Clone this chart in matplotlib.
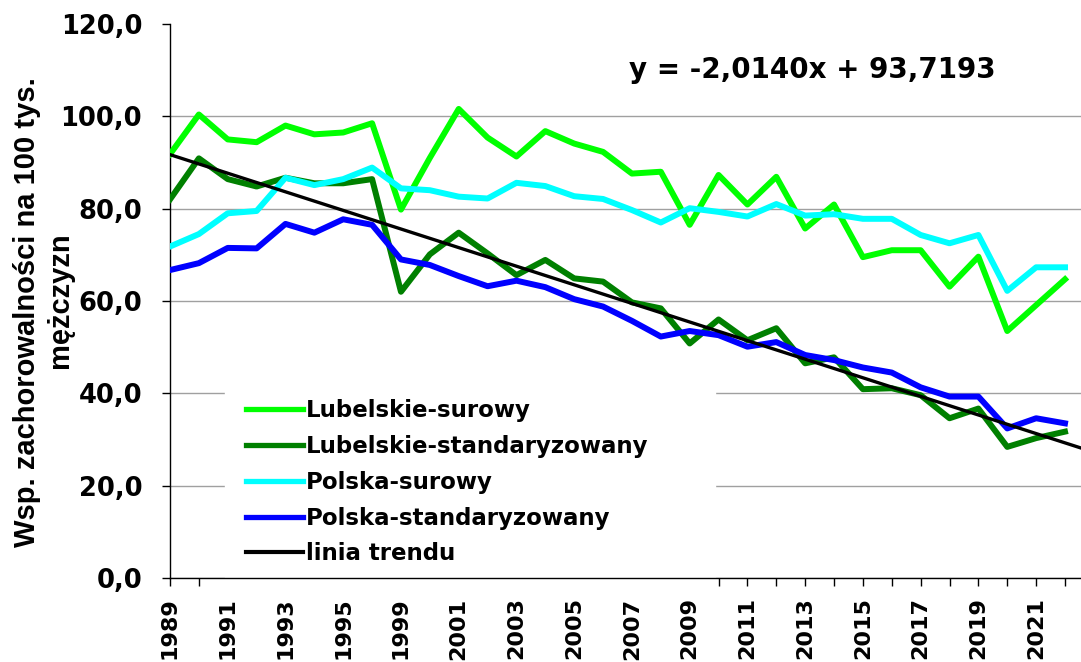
import matplotlib
matplotlib.use("Agg")
import matplotlib.pyplot as plt
from matplotlib.ticker import FixedLocator, FuncFormatter
import numpy as np

# ---- data ----
years = ["1989", "1990", "1991", "1992", "1993", "1994", "1995", "1997",
         "1999", "2000", "2001", "2002", "2003", "2004", "2005", "2006",
         "2007", "2008", "2009", "2010", "2011", "2012", "2013", "2014",
         "2015", "2016", "2017", "2018", "2019", "2020", "2021", "2022"]

lubelskie_surowy = [91.8, 100.4, 95.0, 94.4, 98.0, 96.1, 96.5, 98.5,
                    79.8, 91.0, 101.6, 95.4, 91.3, 96.8, 94.1, 92.3,
                    87.6, 88.0, 76.5, 87.3, 80.9, 86.9, 75.7, 80.9,
                    69.5, 71.0, 71.0, 63.1, 69.6, 53.5, 59.1, 64.7]
lubelskie_std = [82.0, 90.9, 86.4, 84.8, 86.7, 85.5, 85.5, 86.4,
                 62.0, 70.1, 74.8, 70.3, 65.6, 68.9, 64.9, 64.2,
                 59.7, 58.4, 50.8, 56.0, 51.5, 54.1, 46.5, 47.8,
                 40.9, 41.1, 39.6, 34.6, 36.7, 28.4, 30.3, 31.7]
polska_surowy = [71.8, 74.5, 79.0, 79.5, 86.7, 85.1, 86.4, 88.9,
                 84.4, 84.0, 82.6, 82.2, 85.6, 84.9, 82.7, 82.1,
                 79.7, 77.0, 80.1, 79.3, 78.3, 81.0, 78.5, 78.8,
                 77.8, 77.8, 74.3, 72.5, 74.3, 62.2, 67.3, 67.3]
polska_std = [66.7, 68.2, 71.5, 71.4, 76.7, 74.8, 77.7, 76.5,
              69.0, 67.8, 65.4, 63.2, 64.4, 63.0, 60.4, 58.8,
              55.7, 52.3, 53.5, 52.6, 50.1, 51.1, 48.3, 47.2,
              45.6, 44.5, 41.3, 39.3, 39.3, 32.4, 34.6, 33.5]

trend_slope = -2.0140
trend_intercept = 93.7193
trend_x_range = [1.0, 32.6]   # Excel trend x (1-based), with forward forecast

series_labels = ["Lubelskie-surowy", "Lubelskie-standaryzowany",
                 "Polska-surowy", "Polska-standaryzowany", "linia trendu"]
y_ticks = [0, 20, 40, 60, 80, 100, 120]
equation_text = "y = -2,0140x + 93,7193"
ylabel_lines = ["Wsp. zachorowalności na 100 tys.", "mężczyzn"]

# ---- figure ----
W, H = 1081, 662
fig = plt.figure(figsize=(W / 100, H / 100), dpi=100)
ax = fig.add_axes([170 / W, (H - 578) / H, (W - 170) / W, (578 - 24) / H])

x = np.arange(len(years))
lw = 4.3
ax.plot(x, lubelskie_surowy, color="#00FF00", lw=lw, label=series_labels[0], zorder=3)
ax.plot(x, lubelskie_std, color="#008000", lw=lw, label=series_labels[1], zorder=3)
ax.plot(x, polska_surowy, color="#00FFFF", lw=lw, label=series_labels[2], zorder=3)
ax.plot(x, polska_std, color="#0000FF", lw=lw, label=series_labels[3], zorder=3)

tx = np.array(trend_x_range)
ax.plot(tx - 1, trend_slope * tx + trend_intercept, color="black", lw=2.4,
        label=series_labels[4], zorder=4)

ax.set_xlim(0, (W - 170) / ((1065 - 170) / 31))
ax.set_ylim(0, 120)

# spines
for s in ["top", "right"]:
    ax.spines[s].set_visible(False)
for s in ["left", "bottom"]:
    ax.spines[s].set_color("black")
    ax.spines[s].set_linewidth(1.0)

# y axis
ax.yaxis.set_major_locator(FixedLocator(y_ticks))
ax.yaxis.set_major_formatter(FuncFormatter(lambda v, p: f"{v:.1f}".replace(".", ",")))
ax.tick_params(axis="y", direction="out", length=6, width=1, pad=14,
               labelsize=18.5)
for lab in ax.get_yticklabels():
    lab.set_fontweight("bold")
ax.yaxis.grid(True, color="#A0A0A0", lw=1.0, zorder=0)
ax.set_axisbelow(True)
gl = ax.get_ygridlines()
gl[-1].set_visible(False)

# x axis
ax.set_xticks(x)
ax.set_xticklabels([y if i % 2 == 0 else "" for i, y in enumerate(years)],
                   rotation=90, fontsize=16, fontweight="bold")
ax.tick_params(axis="x", direction="out", length=6, width=1, pad=8)

# legend
leg = ax.legend(loc="upper left",
                bbox_to_anchor=((225 - 170) / (W - 170), (578 - 384) / 554,
                                (715 - 225) / (W - 170), 0.01),
                mode="expand", frameon=True, fancybox=False,
                facecolor="white", edgecolor="white", framealpha=1,
                borderpad=0.9, borderaxespad=0, labelspacing=0.56,
                handlelength=2.5, handletextpad=0.15,
                prop={"weight": "bold", "size": 16.5})
leg.set_zorder(2)
for line in leg.get_lines()[:4]:
    line.set_linewidth(3.8)
leg.get_lines()[4].set_linewidth(3.0)

# equation
fig.text(629 / W, 1 - 70 / H, equation_text, fontsize=20, fontweight="bold",
         ha="left", va="center")

# y label (two lines, centred as in the reference)
fig.text(27 / W, 1 - 312 / H, ylabel_lines[0], rotation=90, ha="center",
         va="center", fontsize=21, fontweight="bold", family="Liberation Sans")
fig.text(60 / W, 1 - 300 / H, ylabel_lines[1], rotation=90, ha="center",
         va="center", fontsize=21, fontweight="bold", family="Liberation Sans")

fig.savefig("out.png", dpi=100)
